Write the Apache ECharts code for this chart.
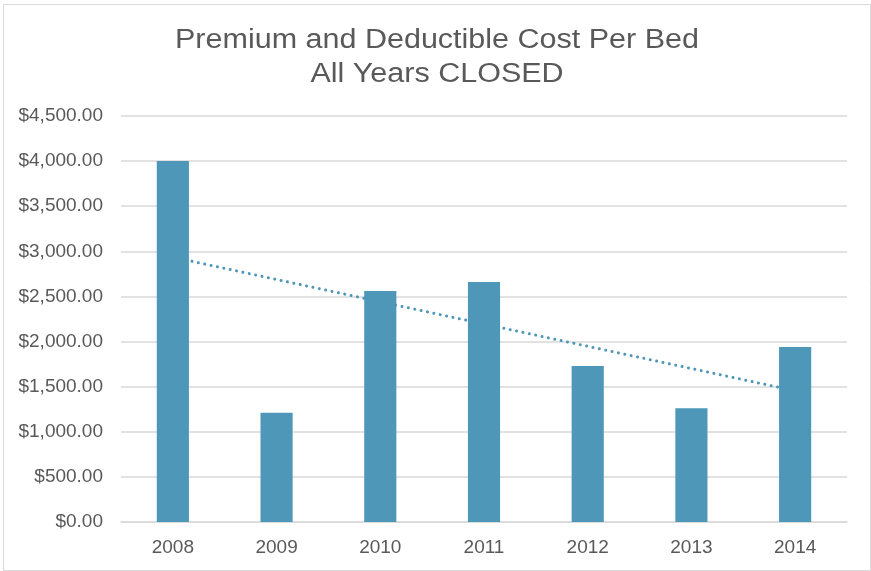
<!DOCTYPE html>
<html><head><meta charset="utf-8">
<script src="https://cdn.jsdelivr.net/npm/echarts@6/dist/echarts.min.js"></script>
<style>html,body{margin:0;padding:0;background:#fff}#c{width:871px;height:571px}</style>
</head><body><div id="c"></div>
<script>
const titleLines = ['Premium and Deductible Cost Per Bed', 'All Years CLOSED'];
const categories = ['2008', '2009', '2010', '2011', '2012', '2013', '2014'];
const costPerBed = [4000, 1210, 2560, 2660, 1730, 1260, 1940];
const yTicks = [0, 500, 1000, 1500, 2000, 2500, 3000, 3500, 4000, 4500];

// linear trendline (least squares) computed from the data
const n = costPerBed.length;
const mx = (n - 1) / 2;
const my = costPerBed.reduce((a, b) => a + b, 0) / n;
let sxy = 0, sxx = 0;
costPerBed.forEach((v, i) => { sxy += (i - mx) * (v - my); sxx += (i - mx) * (i - mx); });
const slope = sxy / sxx;
const trend = costPerBed.map((v, i) => my + slope * (i - mx));

const FONT = '"Liberation Sans", Arial, sans-serif';
const chart = echarts.init(document.getElementById('c'), null, {renderer: 'canvas'});
const fmt = v => '$' + v.toLocaleString('en-US', {minimumFractionDigits: 2, maximumFractionDigits: 2});
chart.setOption({
  animation: false,
  backgroundColor: '#fff',
  textStyle: {fontFamily: FONT},
  graphic: [{
    type: 'rect', left: 1, top: 2, silent: true,
    shape: {width: 867, height: 566},
    style: {fill: 'none', stroke: '#d9d9d9', lineWidth: 1}
  }].concat(titleLines.map((t, i) => ({
    type: 'text', x: 437, y: 41 + i * 34, scaleX: 1.13, silent: true,
    style: {text: t, x: 0, y: 0, align: 'center', verticalAlign: 'middle',
      fontSize: 27, fontFamily: FONT, fill: '#595959'}
  }))),
  grid: {left: 121, right: 24, top: 116, bottom: 49, containLabel: false},
  xAxis: {
    type: 'category', data: categories,
    axisLine: {lineStyle: {color: '#d9d9d9', width: 1.5}},
    axisTick: {show: false},
    axisLabel: {color: '#595959', fontSize: 19, margin: 16}
  },
  yAxis: {
    type: 'value', min: yTicks[0], max: yTicks[yTicks.length - 1], interval: 500,
    axisLine: {show: false}, axisTick: {show: false},
    splitLine: {lineStyle: {color: '#d9d9d9', width: 1.5}},
    axisLabel: {color: '#595959', fontSize: 19, margin: 18, formatter: fmt}
  },
  series: [{
    type: 'bar', data: costPerBed, barWidth: '31%', z: 3,
    itemStyle: {color: '#4e97b8'}
  }, {
    type: 'line', data: trend, z: 2, symbol: 'none',
    lineStyle: {color: '#4e97b8', width: 3, type: [0.01, 6.5], cap: 'round'}
  }]
});
</script></body></html>
